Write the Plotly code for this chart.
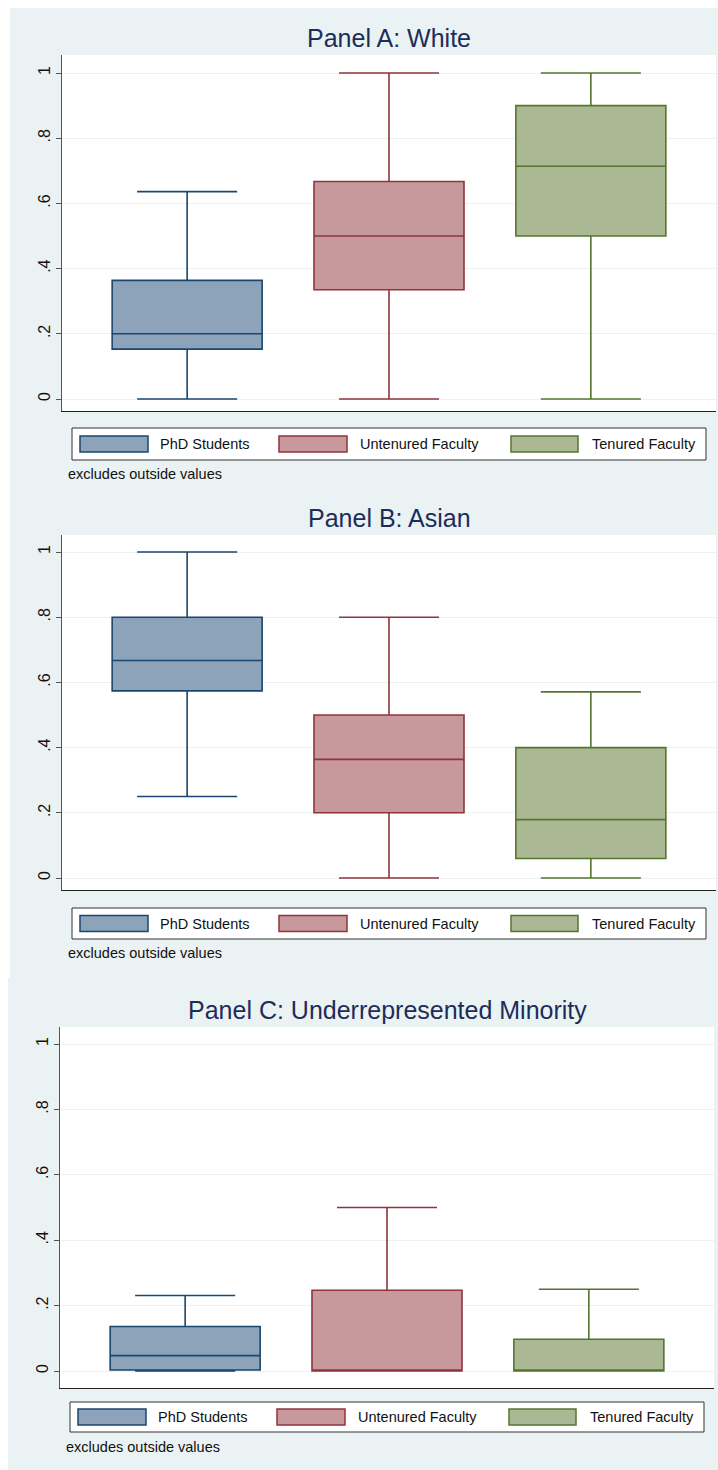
import plotly.graph_objects as go

# ---------------- data ----------------
groups = ["PhD Students", "Untenured Faculty", "Tenured Faculty"]
panel_titles = ["Panel A: White", "Panel B: Asian", "Panel C: Underrepresented Minority"]
note_text = "excludes outside values"

tick_vals = [0, 0.2, 0.4, 0.6, 0.8, 1]
tick_text = ["0", ".2", ".4", ".6", ".8", "1"]

white_lower = [0.0, 0.0, 0.0]
white_q1 = [0.153, 0.335, 0.5]
white_median = [0.2, 0.5, 0.714]
white_q3 = [0.364, 0.667, 0.9]
white_upper = [0.636, 1.0, 1.0]

asian_lower = [0.25, 0.0, 0.0]
asian_q1 = [0.574, 0.2, 0.06]
asian_median = [0.667, 0.364, 0.179]
asian_q3 = [0.8, 0.5, 0.4]
asian_upper = [1.0, 0.8, 0.571]

urm_lower = [0.0, 0.0, 0.0]
urm_q1 = [0.003, 0.0, 0.0]
urm_median = [0.047, 0.0, 0.0]
urm_q3 = [0.136, 0.247, 0.097]
urm_upper = [0.231, 0.5, 0.25]

# ---------------- style ----------------
W, H = 718, 1470
line_colors = ["#1a476f", "#90353b", "#55752f"]
fill_colors = ["#8da3b9", "#c8999c", "#aab894"]
bg_color = "#eaf2f3"
title_color = "#1c2d5a"
FONT = "Liberation Sans, Arial, sans-serif"


def fx(p):
    return p / W


def fy(p):
    return 1 - p / H


# layout specs (pixels)
panels = [
    dict(l=62, r=716, t=55, b=411, y1=73, y0=399, title_x=389, title_y=38,
         leg=(72, 428, 706, 460), sw=[(80, 148), (279, 347), (511, 578)], tx=[158, 358, 590],
         note=(66, 474)),
    dict(l=62, r=716, t=535, b=890, y1=552, y0=878, title_x=389, title_y=518,
         leg=(72, 908, 706, 939), sw=[(80, 148), (279, 347), (511, 578)], tx=[158, 358, 590],
         note=(66, 953)),
    dict(l=60, r=714, t=1027, b=1388, y1=1044, y0=1371, title_x=387, title_y=1010,
         leg=(70, 1402, 704, 1432), sw=[(78, 146), (277, 345), (509, 576)], tx=[156, 356, 588],
         note=(64, 1447)),
]

stats = [
    (white_lower, white_q1, white_median, white_q3, white_upper),
    (asian_lower, asian_q1, asian_median, asian_q3, asian_upper),
    (urm_lower, urm_q1, urm_median, urm_q3, urm_upper),
]

fig = go.Figure()
shapes = []
annotations = []

# panel backgrounds
shapes.append(dict(type="rect", xref="paper", yref="paper", x0=fx(10), x1=fx(718),
                   y0=fy(978), y1=fy(8), fillcolor=bg_color, line=dict(width=0), layer="below"))
shapes.append(dict(type="rect", xref="paper", yref="paper", x0=fx(8), x1=fx(718),
                   y0=fy(1470), y1=fy(978), fillcolor=bg_color, line=dict(width=0), layer="below"))

layout_axes = {}
for pi, (p, st) in enumerate(zip(panels, stats)):
    sfx = "" if pi == 0 else str(pi + 1)
    xa, ya = "x" + sfx, "y" + sfx
    lower, q1, med, q3, upper = st
    for gi, g in enumerate(groups):
        fig.add_trace(go.Box(
            x=[gi], q1=[q1[gi]], median=[med[gi]], q3=[q3[gi]],
            lowerfence=[lower[gi]], upperfence=[upper[gi]],
            width=0.743, whiskerwidth=0.667, boxpoints=False,
            fillcolor=fill_colors[gi], line=dict(color=line_colors[gi], width=1.6),
            name=g, showlegend=False, xaxis=xa, yaxis=ya, hoverinfo="skip",
        ))
    # white plot region
    shapes.append(dict(type="rect", xref="paper", yref="paper", x0=fx(p["l"]), x1=fx(p["r"]),
                       y0=fy(p["b"]), y1=fy(p["t"]), fillcolor="white", line=dict(width=0),
                       layer="below"))
    span = p["y0"] - p["y1"]
    yr = [-(p["b"] - p["y0"]) / span, 1 + (p["y1"] - p["t"]) / span]
    layout_axes["xaxis" + sfx] = dict(
        domain=[fx(p["l"]), fx(p["r"])], range=[-0.62, 2.62], anchor=ya,
        showticklabels=False, ticks="", showgrid=False, zeroline=False,
        showline=True, linecolor="#222222", linewidth=1.2, fixedrange=True)
    layout_axes["yaxis" + sfx] = dict(
        domain=[fy(p["b"]), fy(p["t"])], range=yr, anchor=xa,
        tickvals=tick_vals, ticktext=tick_text, tickangle=-90,
        tickfont=dict(size=16, color="#111111", family=FONT),
        ticks="outside", ticklen=5, tickcolor="#555555", tickwidth=1,
        showgrid=True, gridcolor=bg_color, gridwidth=1.2, zeroline=False,
        showline=True, linecolor="#555555", linewidth=1.2, fixedrange=True)
    # title
    annotations.append(dict(xref="paper", yref="paper", x=fx(p["title_x"]), y=fy(p["title_y"]),
                            text=panel_titles[pi], showarrow=False, xanchor="center", yanchor="middle",
                            font=dict(size=25, color=title_color, family=FONT)))
    # legend box
    lx0, ly0, lx1, ly1 = p["leg"]
    shapes.append(dict(type="rect", xref="paper", yref="paper", x0=fx(lx0), x1=fx(lx1),
                       y0=fy(ly1), y1=fy(ly0), fillcolor="white",
                       line=dict(color="#333333", width=1)))
    cy = (ly0 + ly1) / 2
    for gi, g in enumerate(groups):
        sx0, sx1 = p["sw"][gi]
        shapes.append(dict(type="rect", xref="paper", yref="paper", x0=fx(sx0), x1=fx(sx1),
                           y0=fy(cy + 8), y1=fy(cy - 8), fillcolor=fill_colors[gi],
                           line=dict(color=line_colors[gi], width=1.5)))
        annotations.append(dict(xref="paper", yref="paper", x=fx(p["tx"][gi]), y=fy(cy),
                                text=g, showarrow=False, xanchor="left", yanchor="middle",
                                font=dict(size=14.5, color="#111111", family=FONT)))
    nx, ny = p["note"]
    annotations.append(dict(xref="paper", yref="paper", x=fx(nx), y=fy(ny),
                            text=note_text, showarrow=False, xanchor="left", yanchor="middle",
                            font=dict(size=14.5, color="#111111", family=FONT)))

fig.update_layout(
    width=W, height=H, margin=dict(l=0, r=0, t=0, b=0),
    paper_bgcolor="white", plot_bgcolor="rgba(0,0,0,0)",
    shapes=shapes, annotations=annotations, showlegend=False,
    font=dict(family=FONT), boxmode="overlay",
    **layout_axes,
)

fig.write_html("out.html", config={"displayModeBar": False},
               post_script="document.body.style.margin='0';document.body.style.overflow='hidden';")
